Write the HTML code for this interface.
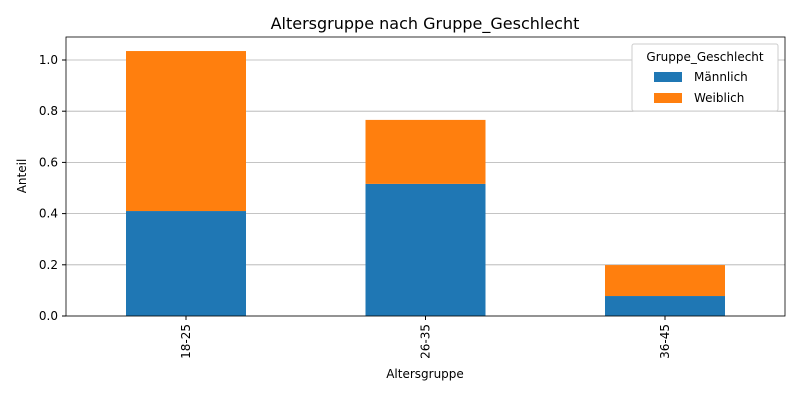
<!DOCTYPE html>
<html><head><meta charset="utf-8"><style>
body{margin:0;background:#fff;font-family:"Liberation Sans","DejaVu Sans",sans-serif;}
</style></head><body>
<svg id="chart" width="800" height="400" xmlns="http://www.w3.org/2000/svg" font-family="DejaVu Sans, Liberation Sans, sans-serif">
<text x="425" y="29" font-size="16" text-anchor="middle">Altersgruppe nach Gruppe_Geschlecht</text>
<g id="grid"></g><g id="bars"></g><g id="axes"></g>
</svg>
<script>
const categories = ["18-25","26-35","36-45"];
const maennlich = [0.41, 0.516, 0.078];
const weiblich = [0.625, 0.25, 0.121];
const yTicks = [0.0,0.2,0.4,0.6,0.8,1.0];
const tickLabels = ["0.0","0.2","0.4","0.6","0.8","1.0"];

const NS="http://www.w3.org/2000/svg";
const L=66,R=785,T=37,B=316;
const y=v=>B-v*256;
const x=i=>186+i*239.5;
function mk(tag,attrs,parent,text){const e=document.createElementNS(NS,tag);for(const k in attrs)e.setAttribute(k,attrs[k]);if(text!==undefined)e.textContent=text;parent.appendChild(e);return e;}
const grid=document.getElementById('grid'),bars=document.getElementById('bars'),axes=document.getElementById('axes');
yTicks.forEach((t,i)=>{
  const g=mk('line',{x1:L,x2:R,y1:y(t),y2:y(t),stroke:'#b0b0b0','stroke-width':0.8},grid);
  
  
  mk('line',{x1:L-4,x2:L,y1:y(t),y2:y(t),stroke:'#000'},axes);
  const lb=mk('text',{x:L-8,y:y(t)+4,'font-size':12,'text-anchor':'end'},axes,tickLabels[i]);
  
  
});
categories.forEach((c,i)=>{
  const cx=x(i);
  const b1=mk('rect',{x:cx-60,width:120,y:y(maennlich[i]),height:B-y(maennlich[i]),fill:'#1f77b4'},bars);
  
  
  const tot=maennlich[i]+weiblich[i];
  const b2=mk('rect',{x:cx-60,width:120,y:y(tot),height:y(maennlich[i])-y(tot),fill:'#ff7f0e'},bars);
  
  
  mk('line',{x1:cx,x2:cx,y1:B,y2:B+4,stroke:'#000'},axes);
  const t=mk('text',{x:0,y:0,'font-size':12,'text-anchor':'end',transform:`translate(${cx+4},${B+8}) rotate(-90)`},axes,c);
  
  
});
mk('rect',{x:L,y:T,width:R-L,height:B-T,fill:'none',stroke:'#000','stroke-width':0.8},axes);
const xt=mk('text',{x:425,y:378,'font-size':12,'text-anchor':'middle'},axes,'Altersgruppe');


const yt=mk('text',{x:0,y:0,'font-size':12,'text-anchor':'middle',transform:'translate(26,176) rotate(-90)'},axes,'Anteil');


const lg=mk('g',{},axes);


mk('rect',{x:632,y:44,width:146,height:67,fill:'#fff',stroke:'#ccc',rx:2},lg);
mk('text',{x:705,y:61,'font-size':12,'text-anchor':'middle'},lg,'Gruppe_Geschlecht');
const e1=mk('g',{},lg);


mk('rect',{x:654,y:72,width:28,height:10,fill:'#1f77b4'},e1);
mk('text',{x:694,y:81,'font-size':12},e1,'Männlich');
const e2=mk('g',{},lg);


mk('rect',{x:654,y:93,width:28,height:10,fill:'#ff7f0e'},e2);
mk('text',{x:694,y:102,'font-size':12},e2,'Weiblich');
</script>
</body></html>
